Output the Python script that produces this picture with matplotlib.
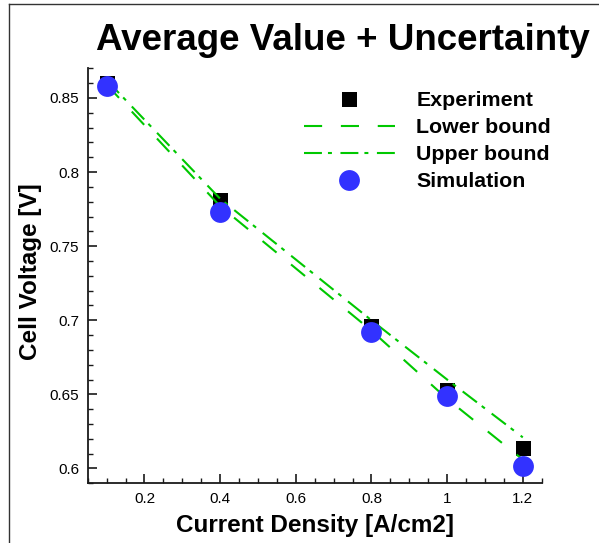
import matplotlib
matplotlib.use("Agg")
import matplotlib.pyplot as plt
from matplotlib.ticker import MultipleLocator, FuncFormatter
from matplotlib.lines import Line2D

# Current density [A/cm2] and cell voltage [V]
current_density = [0.1, 0.4, 0.8, 1.0, 1.2]
experiment = [0.860, 0.781, 0.696, 0.653, 0.614]
lower_bound = [0.859, 0.777, 0.693, 0.647, 0.606]
upper_bound = [0.862, 0.782, 0.700, 0.660, 0.621]
simulation = [0.858, 0.773, 0.692, 0.649, 0.602]

title = "Average Value + Uncertainty"
x_label = "Current Density [A/cm2]"
y_label = "Cell Voltage [V]"

GREEN = "#00c800"
BLUE = "#3232ff"

plt.rcParams["font.family"] = ["Liberation Sans", "DejaVu Sans"]

W, H = 599, 543
fig = plt.figure(figsize=(W / 100, H / 100), dpi=100)
ax = fig.add_axes([87.7 / W, 1 - 483.3 / H, 454 / W, 415 / H])

ax.plot(current_density, experiment, linestyle="none", marker="s",
        markersize=10.8, color="black", markeredgewidth=0, zorder=2,
        label="Experiment")
ax.plot(current_density, lower_bound, color=GREEN, lw=1.5,
        linestyle=(0, (8.7, 9.0)), zorder=3, label="Lower bound")
ax.plot(current_density, upper_bound, color=GREEN, lw=1.5,
        linestyle=(0, (8.6, 2.9, 1.9, 4.1)), zorder=3, label="Upper bound")
ax.plot(current_density, simulation, linestyle="none", marker="o",
        markersize=15, color=BLUE, markeredgewidth=0, zorder=4,
        label="Simulation")

ax.set_xlim(0.05, 1.25)
ax.set_ylim(0.59, 0.87)

for side in ("top", "right"):
    ax.spines[side].set_visible(False)
for side in ("left", "bottom"):
    ax.spines[side].set_linewidth(1.3)
    ax.spines[side].set_color("#1a1a1a")

ax.xaxis.set_major_locator(MultipleLocator(0.2))
ax.xaxis.set_minor_locator(MultipleLocator(0.05))
ax.yaxis.set_major_locator(MultipleLocator(0.05))
ax.yaxis.set_minor_locator(MultipleLocator(0.01))
fmt = FuncFormatter(lambda v, p: f"{v:g}")
ax.xaxis.set_major_formatter(fmt)
ax.yaxis.set_major_formatter(fmt)
ax.tick_params(which="major", direction="in", length=6.5, width=1.2,
               labelsize=11, pad=6, colors="#1a1a1a", labelcolor="black")
ax.tick_params(which="minor", direction="in", length=3.6, width=1.0,
               colors="#1a1a1a")

ax.set_xlabel(x_label, fontsize=17.5, fontweight="bold", va="center")
ax.set_ylabel(y_label, fontsize=17.5, fontweight="bold", va="center",
              ha="center")
ax.xaxis.set_label_coords(0.5, -0.102)
ax.yaxis.set_label_coords(-0.125, 0.51)

fig.text(0.573, 1 - 40 / H, title, fontsize=26.5, fontweight="bold",
         ha="center", va="center")

leg = ax.legend(loc="upper left", bbox_to_anchor=(304 / W, 1 - 91.5 / H),
                bbox_transform=fig.transFigure, frameon=False,
                prop={"size": 15.4, "weight": "bold"}, numpoints=1,
                handlelength=4.25, handletextpad=1.0, labelspacing=0.37,
                borderpad=0, borderaxespad=0)

# Frame lines along the left and top edges
fig.add_artist(Line2D([8.5 / W, 8.5 / W], [0, 1 - 3.5 / H],
                      transform=fig.transFigure, color="#333333", lw=1.0))
fig.add_artist(Line2D([8.5 / W, 1], [1 - 3.5 / H, 1 - 3.5 / H],
                      transform=fig.transFigure, color="#333333", lw=1.0))

fig.savefig("out.png", dpi=100)
